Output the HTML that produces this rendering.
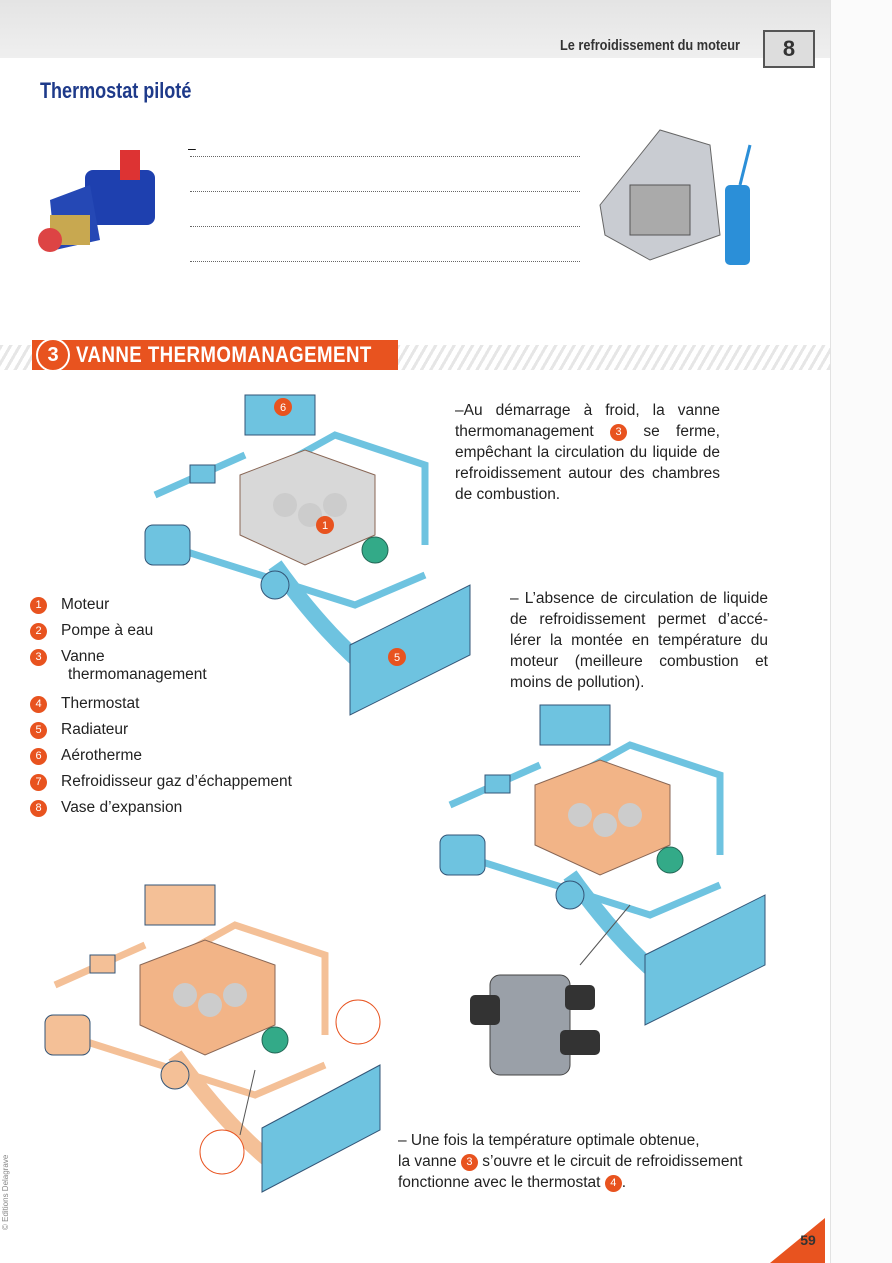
<!DOCTYPE html>
<html><head><meta charset="utf-8">
<style>
html,body{margin:0;padding:0;}
body{width:892px;height:1263px;position:relative;overflow:hidden;background:#fff;font-family:"Liberation Sans",sans-serif;}
.abs{position:absolute;}
.hdr{left:0;top:0;width:830px;height:58px;background:linear-gradient(#e4e4e4,#efefef);}
.rm{left:830px;top:0;width:62px;height:1263px;background:#fbfbfb;border-left:1px solid #e2e2e2;}
.ttl{left:40px;top:78px;font-size:22px;font-weight:bold;color:#1e3a8a;transform:scaleX(0.82);transform-origin:left top;}
.dl{position:absolute;left:190px;width:390px;border-top:1px dotted #666;}
.p{font-size:15.5px;line-height:21px;color:#222;text-align:justify;}
.num{display:inline-block;width:17px;height:17px;border-radius:50%;background:#e8531f;color:#fff;font-size:11px;text-align:center;line-height:17px;vertical-align:1px;}
.leg{left:30px;font-size:15.5px;color:#222;}
.leg .num{margin-right:14px;}
</style></head><body>
<div class="abs hdr"></div>
<div class="abs rm"></div>
<div class="abs" style="left:560px;top:37px;font-size:15px;font-weight:bold;color:#333;transform:scaleX(0.85);transform-origin:left top;">Le refroidissement du moteur</div>
<div class="abs" style="left:763px;top:30px;width:48px;height:34px;border:2px solid #555;background:#ddd;font-size:22px;font-weight:bold;text-align:center;line-height:34px;color:#333;">8</div>
<div class="abs ttl">Thermostat piloté</div>

<svg class="abs" style="left:30px;top:145px" width="150" height="125">
<rect x="55" y="25" width="70" height="55" rx="8" fill="#1e40af"/>
<rect x="90" y="5" width="20" height="30" fill="#d33"/>
<polygon points="20,55 60,40 70,95 25,105" fill="#2548b5"/>
<rect x="20" y="70" width="40" height="30" fill="#c8a850"/>
<circle cx="20" cy="95" r="12" fill="#d44"/>
</svg>
<div class="abs" style="left:188px;top:140px;font-size:14px">–</div>
<div class="dl" style="top:156px"></div><div class="dl" style="top:191px"></div><div class="dl" style="top:226px"></div><div class="dl" style="top:261px"></div>
<svg class="abs" style="left:590px;top:125px" width="185" height="150">
<polygon points="10,80 70,5 120,20 130,110 60,135 15,110" fill="#c9ccd2" stroke="#666"/>
<rect x="40" y="60" width="60" height="50" fill="#aaa" stroke="#555"/>
<rect x="135" y="60" width="25" height="80" rx="5" fill="#2b8fd8"/>
<line x1="150" y1="60" x2="160" y2="20" stroke="#2b8fd8" stroke-width="3"/>
</svg>

<div class="abs" style="left:0;top:345px;width:830px;height:25px;background:repeating-linear-gradient(120deg,#e6e6e6 0 3px,#fff 3px 8px);"></div>
<div class="abs" style="left:32px;top:340px;width:366px;height:30px;background:#e8531f;"></div>
<div class="abs" style="left:36px;top:338px;width:30px;height:30px;border-radius:50%;background:#e8531f;border:2px solid #fff;color:#fff;font-weight:bold;font-size:20px;text-align:center;line-height:30px;">3</div>
<div class="abs" style="left:76px;top:342px;color:#fff;font-weight:bold;font-size:22px;letter-spacing:0.5px;transform:scaleX(0.85);transform-origin:left top;">VANNE THERMOMANAGEMENT</div>

<div class="abs p" style="left:455px;top:400px;width:265px;">–Au démarrage à froid, la vanne thermomanagement <span class="num">3</span> se ferme, empêchant la circulation du liquide de refroidissement autour des chambres de combustion.</div>
<div class="abs p" style="left:510px;top:588px;width:258px;">– L’absence de circulation de liquide de refroidissement permet d’accé­lérer la montée en température du moteur (meilleure combustion et moins de pollution).</div>
<div class="abs p" style="left:398px;top:1130px;width:400px;text-align:left;">– Une fois la température optimale obtenue,<br>la vanne <span class="num">3</span> s’ouvre et le circuit de refroidissement<br>fonctionne avec le thermostat <span class="num">4</span>.</div>

<div class="abs leg" style="top:596px"><span class="num">1</span>Moteur</div>
<div class="abs leg" style="top:622px"><span class="num">2</span>Pompe à eau</div>
<div class="abs leg" style="top:648px"><span class="num">3</span>Vanne<br><span style="margin-left:38px">thermomanagement</span></div>
<div class="abs leg" style="top:695px"><span class="num">4</span>Thermostat</div>
<div class="abs leg" style="top:721px"><span class="num">5</span>Radiateur</div>
<div class="abs leg" style="top:747px"><span class="num">6</span>Aérotherme</div>
<div class="abs leg" style="top:773px"><span class="num">7</span>Refroidisseur gaz d’échappement</div>
<div class="abs leg" style="top:799px"><span class="num">8</span>Vase d’expansion</div>

<svg class="abs" style="left:0;top:0" width="892" height="1263">
<defs>
<g id="eng">
 <path d="M120,90 L210,40 L300,70 L300,150 M30,100 L120,60 M40,150 L230,210 L300,180" fill="none" stroke="var(--c)" stroke-width="7"/>
 <rect x="120" y="0" width="70" height="40" fill="var(--c)" stroke="#357"/>
 <polygon points="115,80 180,55 250,80 250,140 180,170 115,140" fill="var(--e)" stroke="#865"/>
 <circle cx="160" cy="110" r="12" fill="#ccc"/><circle cx="185" cy="120" r="12" fill="#ccc"/><circle cx="210" cy="110" r="12" fill="#ccc"/>
 <rect x="20" y="130" width="45" height="40" rx="8" fill="var(--c)" stroke="#357"/>
 <rect x="65" y="70" width="25" height="18" fill="var(--c)" stroke="#357"/>
 <path d="M150,170 Q200,240 250,280" fill="none" stroke="var(--c)" stroke-width="16"/>
 <circle cx="150" cy="190" r="14" fill="var(--c)" stroke="#357"/>
 <circle cx="250" cy="155" r="13" fill="#3a8" stroke="#265"/>
</g>
<polygon id="rad" points="225,250 345,190 345,260 225,320" fill="#6ec3e0" stroke="#357"/>
</defs>
<g transform="translate(125,395)" style="--c:#6ec3e0;--e:#d8d8d8"><use href="#eng"/><use href="#rad"/>
<circle cx="158" cy="12" r="9" fill="#e8531f"/><text x="158" y="16" fill="#fff" font-size="11" text-anchor="middle">6</text>
<circle cx="200" cy="130" r="9" fill="#e8531f"/><text x="200" y="134" fill="#fff" font-size="11" text-anchor="middle">1</text>
<circle cx="272" cy="262" r="9" fill="#e8531f"/><text x="272" y="266" fill="#fff" font-size="11" text-anchor="middle">5</text>
</g>
<g transform="translate(420,705)" style="--c:#6ec3e0;--e:#f2b487"><use href="#eng"/><use href="#rad"/></g>
<g transform="translate(25,885)" style="--c:#f4c097;--e:#f2b487"><use href="#eng"/></g>
<polygon points="262,1128 380,1065 380,1130 262,1192" fill="#6ec3e0" stroke="#357"/>
<circle cx="358" cy="1022" r="22" fill="#fff" stroke="#e8531f"/>
<circle cx="222" cy="1152" r="22" fill="#fff" stroke="#e8531f"/>
<line x1="240" y1="1135" x2="255" y2="1070" stroke="#555"/>
<line x1="580" y1="965" x2="630" y2="905" stroke="#555"/>
<g transform="translate(470,955)">
<rect x="20" y="20" width="80" height="100" rx="10" fill="#9aa0a8" stroke="#444"/>
<rect x="0" y="40" width="30" height="30" rx="5" fill="#333"/>
<rect x="95" y="30" width="30" height="25" rx="5" fill="#333"/>
<rect x="90" y="75" width="40" height="25" rx="5" fill="#333"/>
</g>
<polygon points="770,1263 825,1218 825,1263" fill="#e8531f"/>
<text x="808" y="1245" font-size="14" font-weight="bold" fill="#333" text-anchor="middle">59</text>
<text x="8" y="1230" font-size="8" fill="#888" transform="rotate(-90 8 1230)">© Editions Delagrave</text>
</svg>
</body></html>
